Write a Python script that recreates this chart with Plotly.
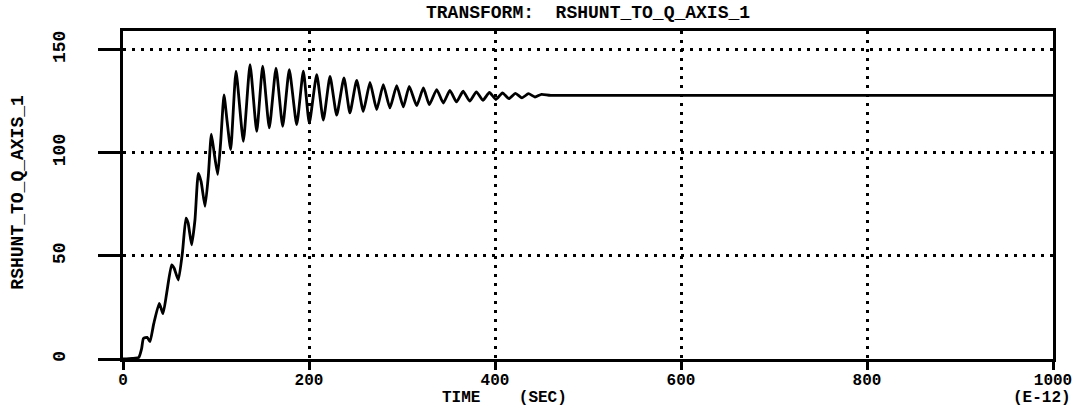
import plotly.graph_objects as go

# Transient response of RSHUNT_TO_Q_AXIS_1 (time in units of 1e-12 s)
time_ps = [
    0, 10, 17, 20, 22, 26, 29, 33, 39, 43, 47, 52.3, 55, 59.5, 64, 67.7, 70,
    73.8, 77.4, 81, 84, 88.2, 91.7, 95, 98, 101.8, 105, 108.6, 112, 115.8,
    121.5, 129.4, 136.6, 143.8, 150.2, 157.3, 164.5, 171.7, 178.8, 186.8,
    193.9, 200.3, 208.3, 215.4, 222.6, 229.8, 237.6, 244, 251.3, 258.4,
    265.6, 272.8, 279.9, 287, 294.3, 301.4, 307.8, 315.8, 323, 329.4, 337.3,
    344.4, 351.5, 358.6, 365.7, 372.8, 380, 387, 394, 401, 408, 415, 422,
    429, 436, 443, 450, 460, 1000,
]
rshunt = [
    0, 0.3, 0.8, 5, 10, 10.5, 8.4, 17, 27, 22, 32, 45.6, 44, 38.3, 52, 68.3,
    66, 55.3, 67.5, 90, 86, 74, 88.5, 109, 100, 89.5, 105, 128, 115, 101.5,
    139.5, 105.5, 142.7, 110.3, 142, 112, 141, 112.8, 140.3, 113.6, 139.5,
    114.4, 137.9, 115.8, 137, 118.2, 136.3, 119.3, 135.1, 120, 134.1, 120.9,
    133, 121.7, 132.5, 122.2, 132.2, 122.8, 131.4, 123.3, 130.6, 124.1,
    130.2, 124.6, 129.8, 125, 129.5, 125.4, 129.2, 125.8, 129, 126.2, 128.8,
    126.6, 128.6, 127, 128.3, 127.8, 127.8,
]

x_ticks = [0, 200, 400, 600, 800, 1000]
y_ticks = [0, 50, 100, 150]

FONT = "Liberation Mono"
FS = 18
FS_X = 16

fig = go.Figure()
fig.add_trace(go.Scatter(
    x=time_ps, y=rshunt, mode="lines",
    line=dict(color="black", width=2.8, shape="spline", smoothing=0.5),
    showlegend=False, hoverinfo="skip",
))

axis_common = dict(
    showline=True, linecolor="black", linewidth=2.5, mirror=True,
    showgrid=True, gridcolor="black", gridwidth=3, griddash="3px,6px",
    zeroline=False, ticks="outside", tickcolor="black", tickwidth=2.5,
)

fig.update_xaxes(
    range=[0, 1000], tickvals=x_ticks, ticktext=[str(v) for v in x_ticks],
    ticklen=8, ticklabelstandoff=-4,
    tickfont=dict(family=FONT, size=FS_X, color="black", weight="bold"),
    **axis_common,
)
fig.update_yaxes(
    range=[0, 159], tickvals=y_ticks, ticktext=[str(v) for v in y_ticks],
    ticklen=22, tickangle=-90, ticklabelstandoff=26,
    tickfont=dict(family=FONT, size=FS, color="black", weight="bold"),
    **axis_common,
)

text_font = dict(family=FONT, size=FS, color="black", weight="bold")
bottom_font = dict(family=FONT, size=FS_X, color="black", weight="bold")
fig.update_layout(
    width=1084, height=408,
    margin=dict(l=123, r=31, t=31, b=49),
    paper_bgcolor="white", plot_bgcolor="white",
    annotations=[
        dict(text="TRANSFORM:  RSHUNT_TO_Q_AXIS_1", x=0.5, y=1.055,
             xref="paper", yref="paper", xanchor="center", yanchor="middle",
             showarrow=False, font=text_font),
        dict(text="RSHUNT_TO_Q_AXIS_1", x=-0.113, y=0.51, textangle=-90,
             xref="paper", yref="paper", xanchor="center", yanchor="middle",
             showarrow=False, font=text_font),
        dict(text="TIME    (SEC)", x=0.41, y=-0.118,
             xref="paper", yref="paper", xanchor="center", yanchor="middle",
             showarrow=False, font=bottom_font),
        dict(text="(E-12)", x=0.988, y=-0.118,
             xref="paper", yref="paper", xanchor="center", yanchor="middle",
             showarrow=False, font=bottom_font),
    ],
)

fig.write_html("out.html")
